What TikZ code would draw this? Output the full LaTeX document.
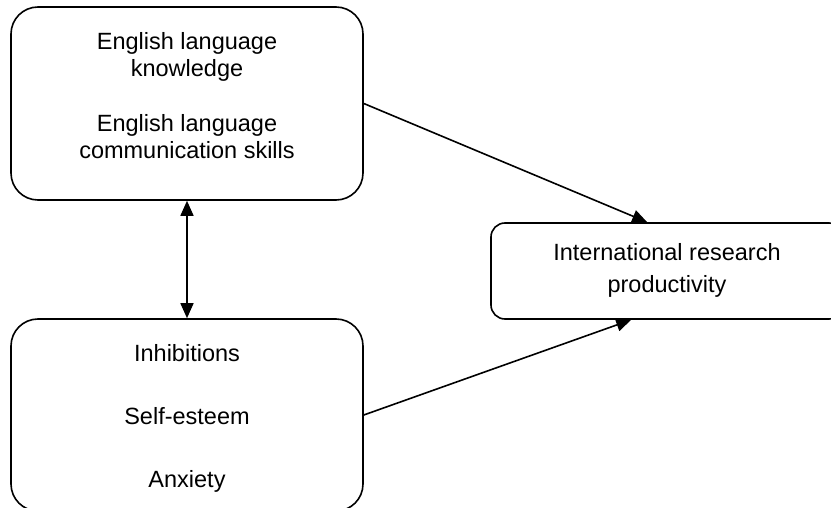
\documentclass[tikz,border=0pt]{standalone}
\usepackage{fontspec}
\setmainfont{Liberation Sans}
\usetikzlibrary{arrows.meta}
\begin{document}
\begin{tikzpicture}[x=1pt,y=-1pt,
  box/.style={draw=black, line width=1.6pt, fill=white, rounded corners=27pt, inner sep=0pt},
  smallbox/.style={box, rounded corners=14pt},
  txt/.style={anchor=base, inner sep=0pt, font=\fontsize{23.5}{27}\selectfont},
  link/.style={line width=1.6pt, -{Triangle[length=15pt,width=13pt]}},
  dlink/.style={line width=1.6pt, {Triangle[length=15pt,width=13pt]}-{Triangle[length=15pt,width=13pt]}}
]
\clip (0,0) rectangle (831,508);
\fill[white] (0,0) rectangle (831,508);
% boxes
\node[box, minimum width=352pt, minimum height=193pt] (top) at (187,103.5) {};
\node[box, minimum width=352pt, minimum height=192pt] (bot) at (187,415) {};
\node[smallbox, minimum width=352pt, minimum height=96pt] (rp) at (667,271) {};
% texts
\node[txt] (t1) at (187,50) {English language};
\node[txt] (t2) at (187,77) {knowledge};
\node[txt] (t3) at (187,132) {English language};
\node[txt] (t4) at (187,159) {communication skills};
\node[txt] (b1) at (187,361) {Inhibitions};
\node[txt] (b2) at (187,424) {Self-esteem};
\node[txt] (b3) at (187,487) {Anxiety};
\node[txt] (r1) at (667,261) {International research};
\node[txt] (r2) at (667,292) {productivity};
% connectors
\draw[link] (top.east) -- ([xshift=157pt]rp.north west);
\draw[link] (bot.east) -- ([xshift=141pt]rp.south west);
\draw[dlink] (top.south) -- (bot.north);
\end{tikzpicture}
\end{document}
